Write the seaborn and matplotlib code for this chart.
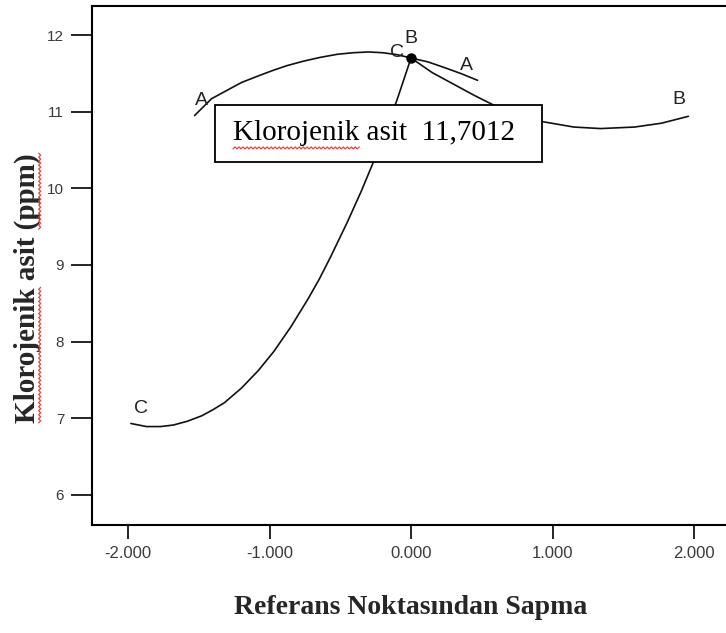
import numpy as np
import pandas as pd
import seaborn as sns
import matplotlib
matplotlib.use("Agg")
import matplotlib.pyplot as plt
from matplotlib.patches import Rectangle
from matplotlib.lines import Line2D

# Perturbation curves: deviation from the reference point (coded units) vs response
a_dev = [-1.53, -1.41, -1.30, -1.20, -1.09, -0.99, -0.88, -0.76, -0.64, -0.52,
         -0.41, -0.30, -0.20, -0.10, 0.0, 0.12, 0.23, 0.35, 0.47]
a_resp = [10.95, 11.17, 11.28, 11.38, 11.46, 11.53, 11.60, 11.66, 11.71, 11.75,
          11.77, 11.78, 11.77, 11.745, 11.7012, 11.65, 11.58, 11.50, 11.41]

b_dev = [0.0, 0.15, 0.30, 0.45, 0.58, 0.75, 0.93, 1.15, 1.34, 1.58, 1.77, 1.96]
b_resp = [11.7012, 11.51, 11.36, 11.21, 11.09, 10.98, 10.87, 10.80, 10.78, 10.80, 10.85, 10.94]

c_dev = [-1.98, -1.87, -1.77, -1.68, -1.58, -1.48, -1.40, -1.32, -1.20, -1.08,
         -0.97, -0.85, -0.73, -0.65, -0.57, -0.45, -0.35, -0.26, -0.18, -0.10, 0.0]
c_resp = [6.93, 6.89, 6.89, 6.91, 6.96, 7.03, 7.11, 7.20, 7.39, 7.62,
          7.87, 8.19, 8.55, 8.81, 9.10, 9.56, 9.97, 10.37, 10.75, 11.15, 11.7012]

factor_names = ["A", "B", "C"]
ref_dev = 0.0
ref_value = 11.7012

x_ticks = [-2, -1, 0, 1, 2]
x_tick_labels = ["-2.000", "-1.000", "0.000", "1.000", "2.000"]
y_ticks = [6, 7, 8, 9, 10, 11, 12]
y_tick_labels = ["6", "7", "8", "9", "10", "11", "12"]

response_name = "Klorojenik asit"
x_title = "Referans Noktasından Sapma"
y_title = "Klorojenik asit (ppm)"

df = pd.concat([
    pd.DataFrame({"dev": a_dev, "resp": a_resp, "factor": "A"}),
    pd.DataFrame({"dev": b_dev, "resp": b_resp, "factor": "B"}),
    pd.DataFrame({"dev": c_dev, "resp": c_resp, "factor": "C"}),
], ignore_index=True)

sns.set_theme(style="ticks")
plt.rcParams["font.family"] = ["Liberation Sans", "DejaVu Sans"]
SERIF = ["Liberation Serif", "DejaVu Serif"]

W, H = 726, 633
fig = plt.figure(figsize=(W / 100, H / 100), dpi=100)
ax = fig.add_axes([92 / W, (H - 525) / H, (W - 92) / W, (525 - 6) / H])

sns.lineplot(data=df, x="dev", y="resp", hue="factor", units="factor",
             estimator=None, sort=False, palette=["#111111"] * 3,
             linewidth=1.2, legend=False, ax=ax)

ax.plot([ref_dev], [ref_value], marker="o", color="black", markersize=6.5, zorder=5)

ax.set_xlim(-2.255, 2.226)
ax.set_ylim(5.605, 12.38)
ax.set_xticks(x_ticks)
ax.set_xticklabels(x_tick_labels)
ax.set_yticks(y_ticks)
ax.set_yticklabels(y_tick_labels)
ax.tick_params(axis="both", colors="black", labelcolor="#3a3a3a",
               width=1.2, direction="out")
ax.tick_params(axis="y", length=15, pad=5, labelsize=11)
ax.tick_params(axis="x", length=10, pad=5, labelsize=12)
for side in ["left", "bottom", "top"]:
    ax.spines[side].set_color("black")
    ax.spines[side].set_linewidth(1.5)
ax.spines["right"].set_visible(False)
ax.set_xlabel("")
ax.set_ylabel("")

# Factor labels at the ends of each curve
lab_kw = dict(textcoords="offset points", fontsize=14, color="#222222",
              ha="center", va="center")
ax.annotate("A", (a_dev[0], a_resp[0]), xytext=(5, 11), **lab_kw)
ax.annotate("A", (a_dev[-1], a_resp[-1]), xytext=(-8, 11), **lab_kw)
ax.annotate("B", (b_dev[0], b_resp[0]), xytext=(0, 14), **lab_kw)
ax.annotate("B", (b_dev[-1], b_resp[-1]), xytext=(-7, 12), **lab_kw)
ax.annotate("C", (c_dev[0], c_resp[0]), xytext=(7, 11), **lab_kw)
ax.annotate("C", (c_dev[-1], c_resp[-1]), xytext=(-10, 4), **lab_kw)

# Value box for the reference point
ax.add_patch(Rectangle((0.194, 0.699), 0.516, 0.110, transform=ax.transAxes,
                       facecolor="white", edgecolor="black", linewidth=1.3, zorder=6))
box_text = f"{response_name}  {ref_value:.4f}".replace(".", ",")
box_kw = dict(transform=ax.transAxes, ha="left", va="baseline", fontsize=21,
              family=SERIF, color="black", zorder=7)
box_t = ax.text(0.2224, 0.742, box_text, **box_kw)

title_kw = dict(ha="center", va="center", fontsize=20, fontweight="bold", family=SERIF)
fig.text(411 / W, 1 - 608 / H, x_title, **title_kw)
ylab_kw = dict(title_kw, fontsize=21)
ylab = fig.text(27 / W, 1 - 288 / H, y_title, rotation=90, **ylab_kw)


def squiggle(x0, x1, y, vertical=False):
    """Red wavy underline between x0 and x1 (display pixels)."""
    n = max(int(abs(x1 - x0) / 2.0), 2)
    s = np.linspace(x0, x1, n + 1)
    off = np.where(np.arange(n + 1) % 2 == 0, -1.0, 1.0)
    if vertical:
        xs, ys = y + off, s
    else:
        xs, ys = s, y + off
    fig.add_artist(Line2D(xs, ys, transform=None, color="#e8423c",
                          linewidth=0.9, zorder=10))


fig.canvas.draw()
r = fig.canvas.get_renderer()

# underline the first word inside the value box
tmp = ax.text(0.2224, 0.742, response_name.split()[0], **box_kw)
bb = tmp.get_window_extent(r)
tmp.remove()
squiggle(bb.x0, bb.x1, bb.y0 - 2)

# underline the first word and the unit of the rotated axis title
yb = ylab.get_window_extent(r)
word = fig.text(0, 0, y_title.split()[0], **ylab_kw)
w_len = word.get_window_extent(r).width
word.remove()
unit = fig.text(0, 0, y_title.split()[-1], **ylab_kw)
u_len = unit.get_window_extent(r).width
unit.remove()
squiggle(yb.y0, yb.y0 + w_len, yb.x1 - 1, vertical=True)
squiggle(yb.y1 - u_len, yb.y1, yb.x1 - 1, vertical=True)

fig.savefig("out.png", dpi=100)
